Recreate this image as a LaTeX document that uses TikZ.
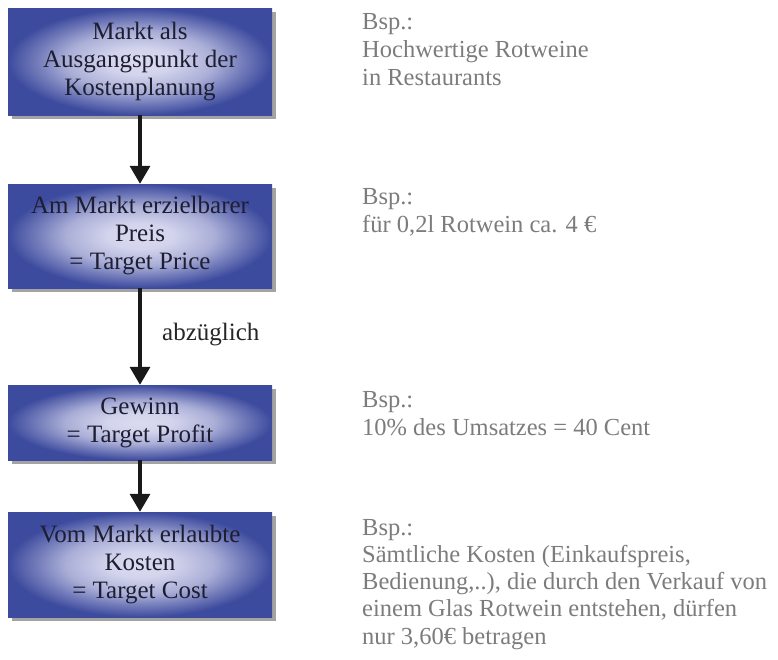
\documentclass[tikz,border=0pt]{standalone}
\usepackage{fontspec}
\setmainfont{Liberation Serif}
\usetikzlibrary{arrows.meta,shadows}
\definecolor{boxout}{HTML}{3D4B9E}
\definecolor{boxin}{HTML}{DADAF0}
\definecolor{boxtext}{HTML}{1E1E32}
\definecolor{examplegray}{HTML}{7C7C7C}
\definecolor{labeltext}{HTML}{262626}
\pgfdeclareradialshading{boxshade}{\pgfpoint{0bp}{0bp}}{%
  color(0bp)=(boxin); color(6bp)=(boxin!96!boxout); color(14bp)=(boxin!70!boxout);
  color(21bp)=(boxin!25!boxout); color(25bp)=(boxout); color(50bp)=(boxout)}
\tikzset{
  stepbox/.style={rectangle, shading=boxshade,
    minimum width=264pt, align=center, text=boxtext, inner sep=0pt,
    font=\fontsize{25}{28}\selectfont,
    drop shadow={shadow xshift=4pt, shadow yshift=-4pt, fill=black!40, opacity=0.9}},
  flowarrow/.style={line width=3.4pt, draw=black!90,
    -{Triangle[width=20pt,length=18pt]}},
  example/.style={anchor=north west, align=left, inner sep=0pt,
    text=examplegray, font=\fontsize{24.5}{28}\selectfont},
  arrowlabel/.style={anchor=west, inner sep=0pt, text=labeltext,
    font=\fontsize{25}{28}\selectfont}
}
\begin{document}
\begin{tikzpicture}[x=1pt,y=-1pt]
\useasboundingbox (0,0) rectangle (778,659);
\node[stepbox, minimum height=107pt] (b1) at (140,61.5)
  {Markt als\\Ausgangspunkt der\\Kostenplanung};
\node[stepbox, minimum height=104pt] (b2) at (140,236)
  {Am Markt erzielbarer\\Preis\\= Target Price};
\node[stepbox, minimum height=75pt] (b3) at (140,422.5)
  {Gewinn\\= Target Profit};
\node[stepbox, minimum height=105pt] (b4) at (140,564.5)
  {Vom Markt erlaubte\\Kosten\\= Target Cost};
\draw[flowarrow] (b1.south) -- (b2.north);
\draw[flowarrow] (b2.south) -- (b3.north);
\draw[flowarrow] (b3.south) -- (b4.north);
\node[arrowlabel] (lab) at (162,335) {abzüglich};
\node[example] (e1) at (362,13) {Bsp.:\\Hochwertige Rotweine\\in Restaurants};
\node[example] (e2) at (362,188) {Bsp.:\\für 0,2l Rotwein ca. 4 €};
\node[example] (e3) at (362,391) {Bsp.:\\10\% des Umsatzes = 40 Cent};
\node[example, font=\fontsize{24.5}{27.2}\selectfont] (e4) at (362,519)
  {Bsp.:\\Sämtliche Kosten (Einkaufspreis,\\Bedienung,..), die durch den Verkauf von\\einem Glas Rotwein entstehen, dürfen\\nur 3,60€ betragen};
\end{tikzpicture}
\end{document}
